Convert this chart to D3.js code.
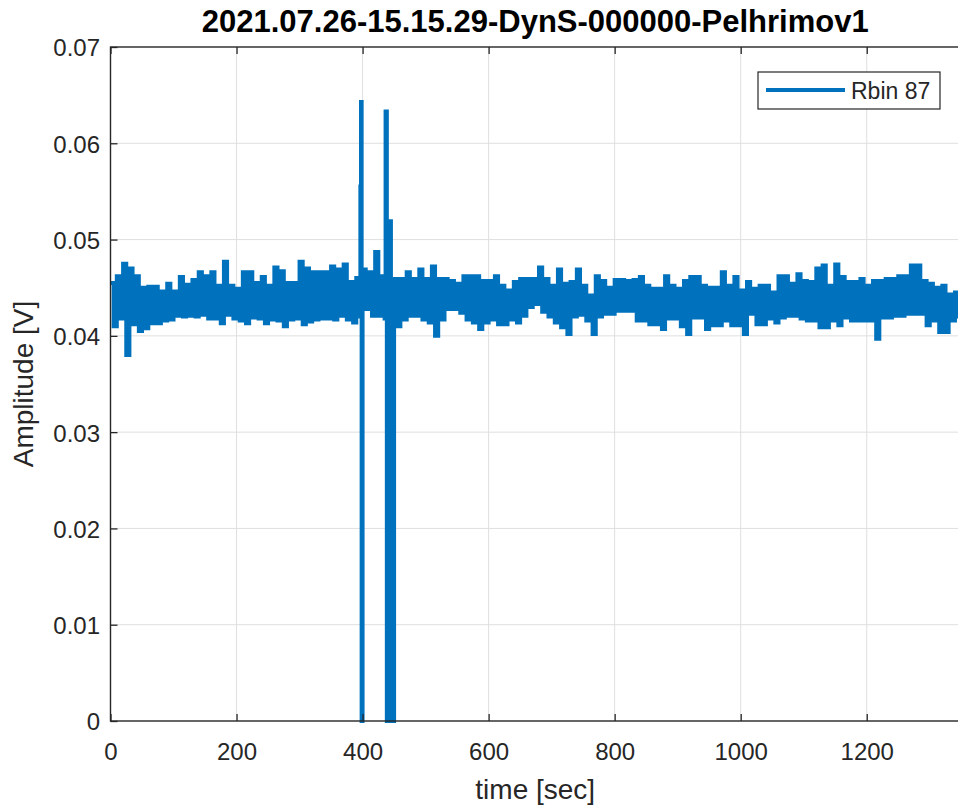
<!DOCTYPE html>
<html>
<head>
<meta charset="utf-8">
<script src="https://cdn.jsdelivr.net/npm/d3@7"></script>
<style>
  html, body { margin: 0; padding: 0; background: #fff; }
  svg { display: block; font-family: "Liberation Sans", Arial, Helvetica, sans-serif; }
</style>
</head>
<body>
<svg id="chart" width="958" height="809"></svg>
<script>
// envelope of the trace, one high and one low reading per 10 s bin (t = 0 .. 1340)
const binStep = 10;
const hiVals = [
  0.0455, 0.0462, 0.0475, 0.0470, 0.0462, 0.0450, 0.0451, 0.0451, 0.0446, 0.0454,
  0.0446, 0.0461, 0.0453, 0.0458, 0.0466, 0.0462, 0.0466, 0.0452, 0.0477, 0.0452,
  0.0449, 0.0466, 0.0466, 0.0455, 0.0461, 0.0452, 0.0471, 0.0467, 0.0455, 0.0455,
  0.0477, 0.0470, 0.0466, 0.0466, 0.0466, 0.0472, 0.0469, 0.0474, 0.0456, 0.0460,
  0.0469, 0.0466, 0.0487, 0.0462, 0.0519, 0.0459, 0.0459, 0.0466, 0.0459, 0.0469,
  0.0459, 0.0472, 0.0459, 0.0459, 0.0457, 0.0454, 0.0462, 0.0462, 0.0462, 0.0457,
  0.0457, 0.0462, 0.0452, 0.0447, 0.0456, 0.0459, 0.0459, 0.0459, 0.0471, 0.0459,
  0.0452, 0.0469, 0.0454, 0.0456, 0.0469, 0.0452, 0.0442, 0.0462, 0.0457, 0.0450,
  0.0458, 0.0458, 0.0457, 0.0458, 0.0461, 0.0452, 0.0449, 0.0449, 0.0462, 0.0452,
  0.0449, 0.0457, 0.0461, 0.0461, 0.0452, 0.0450, 0.0450, 0.0466, 0.0452, 0.0461,
  0.0447, 0.0456, 0.0449, 0.0452, 0.0452, 0.0445, 0.0462, 0.0462, 0.0454, 0.0464,
  0.0457, 0.0456, 0.0470, 0.0473, 0.0452, 0.0474, 0.0461, 0.0456, 0.0456, 0.0459,
  0.0452, 0.0457, 0.0457, 0.0459, 0.0459, 0.0462, 0.0462, 0.0473, 0.0473, 0.0457,
  0.0454, 0.0450, 0.0452, 0.0443, 0.0445
];
const loVals = [
  0.0410, 0.0418, 0.0380, 0.0412, 0.0405, 0.0408, 0.0413, 0.0413, 0.0416, 0.0417,
  0.0421, 0.0420, 0.0421, 0.0420, 0.0422, 0.0418, 0.0418, 0.0413, 0.0422, 0.0418,
  0.0416, 0.0413, 0.0419, 0.0418, 0.0413, 0.0417, 0.0416, 0.0410, 0.0417, 0.0418,
  0.0412, 0.0415, 0.0417, 0.0418, 0.0418, 0.0417, 0.0421, 0.0417, 0.0414, 0.0420,
  0.0428, 0.0421, 0.0421, 0.0418, 0.0000, 0.0410, 0.0417, 0.0421, 0.0421, 0.0417,
  0.0414, 0.0400, 0.0417, 0.0428, 0.0428, 0.0424, 0.0417, 0.0414, 0.0407, 0.0414,
  0.0417, 0.0412, 0.0412, 0.0417, 0.0414, 0.0421, 0.0430, 0.0433, 0.0425, 0.0420,
  0.0414, 0.0409, 0.0402, 0.0420, 0.0422, 0.0416, 0.0402, 0.0420, 0.0423, 0.0423,
  0.0426, 0.0426, 0.0426, 0.0416, 0.0416, 0.0412, 0.0412, 0.0407, 0.0418, 0.0418,
  0.0410, 0.0402, 0.0419, 0.0419, 0.0407, 0.0411, 0.0411, 0.0416, 0.0411, 0.0411,
  0.0402, 0.0423, 0.0412, 0.0412, 0.0418, 0.0414, 0.0419, 0.0421, 0.0421, 0.0418,
  0.0416, 0.0416, 0.0409, 0.0409, 0.0416, 0.0411, 0.0419, 0.0416, 0.0416, 0.0416,
  0.0416, 0.0397, 0.0419, 0.0419, 0.0421, 0.0421, 0.0423, 0.0423, 0.0423, 0.0411,
  0.0416, 0.0404, 0.0404, 0.0416, 0.0418
];
// the two spikes
const spikeTime = [396.5, 397.5, 398.5, 436.5, 438.5];
const spikeAmp  = [0.0555, 0.0643, 0.0000, 0.0633, 0.0000];

const xTicks = [0, 200, 400, 600, 800, 1000, 1200];
const yTicks = [0, 0.01, 0.02, 0.03, 0.04, 0.05, 0.06, 0.07];
const titleText = "2021.07.26-15.15.29-DynS-000000-Pelhrimov1";
const seriesName = "Rbin 87";

(function () {
  const svg = d3.select("#chart");
  const pL = 110.5, pR = 960, pT = 47, pB = 721;
  const ink = "#262626", blue = "#0072BD";

  const x = d3.scaleLinear().domain([0, 1348]).range([pL, pR]);
  const y = d3.scaleLinear().domain([0, 0.07]).range([pB, pT]);

  // grid
  svg.append("g").selectAll("line").data(xTicks.slice(1)).join("line")
    .attr("x1", d => x(d)).attr("x2", d => x(d))
    .attr("y1", pT).attr("y2", pB)
    .attr("stroke", "#dfdfdf").attr("stroke-width", 1);
  svg.append("g").selectAll("line").data(yTicks.slice(1, -1)).join("line")
    .attr("x1", pL).attr("x2", pR)
    .attr("y1", d => y(d)).attr("y2", d => y(d))
    .attr("stroke", "#dfdfdf").attr("stroke-width", 1);

  // trace
  const pts = [];
  hiVals.forEach((h, i) => {
    pts.push([i * binStep, h]);
    pts.push([i * binStep + binStep / 2, loVals[i]]);
  });
  spikeTime.forEach((t, j) => pts.push([t, spikeAmp[j]]));
  pts.sort((a, b) => a[0] - b[0]);

  svg.append("clipPath").attr("id", "clip")
    .append("rect").attr("x", pL).attr("y", pT - 2)
    .attr("width", pR - pL).attr("height", pB - pT + 4);

  svg.append("path")
    .datum(pts)
    .attr("clip-path", "url(#clip)")
    .attr("fill", "none")
    .attr("stroke", blue)
    .attr("stroke-width", 4)
    .attr("d", d3.line().x(d => x(d[0])).y(d => y(d[1])).curve(d3.curveStepAfter));

  // axes
  const xAxis = svg.append("g")
    .attr("transform", `translate(0,${pB})`)
    .call(d3.axisBottom(x).tickValues(xTicks).tickSizeInner(-7).tickSizeOuter(0)
      .tickPadding(22).tickFormat(d3.format("d")));
  svg.append("g")
    .attr("transform", `translate(0,${pT})`)
    .call(d3.axisTop(x).tickValues(xTicks).tickSizeInner(-7).tickSizeOuter(0).tickFormat(""));
  const yAxis = svg.append("g")
    .attr("transform", `translate(${pL},0)`)
    .call(d3.axisLeft(y).tickValues(yTicks).tickSizeInner(-7).tickSizeOuter(0)
      .tickPadding(10.5).tickFormat(d => d === 0 ? "0" : d3.format(".2f")(d)));

  svg.selectAll(".domain").remove();
  svg.selectAll(".tick line").attr("stroke", ink).attr("stroke-width", 1.3);
  xAxis.selectAll("text").attr("font-size", 24).attr("fill", ink).attr("font-family", null);
  yAxis.selectAll("text").attr("font-size", 24).attr("fill", ink).attr("font-family", null)
    .attr("dy", "0.37em");

  // box
  svg.append("rect")
    .attr("x", pL).attr("y", pT)
    .attr("width", pR - pL).attr("height", pB - pT)
    .attr("fill", "none").attr("stroke", ink).attr("stroke-width", 1.4);

  // labels
  svg.append("text")
    .attr("x", (pL + pR) / 2).attr("y", 32)
    .attr("text-anchor", "middle")
    .attr("font-size", 31).attr("font-weight", "bold").attr("fill", "#000")
    .text(titleText);

  svg.append("text")
    .attr("x", (pL + pR) / 2).attr("y", 799)
    .attr("text-anchor", "middle")
    .attr("font-size", 28).attr("fill", ink)
    .text("time [sec]");

  svg.append("text")
    .attr("transform", `translate(33,${(pT + pB) / 2}) rotate(-90)`)
    .attr("text-anchor", "middle")
    .attr("font-size", 28).attr("fill", ink)
    .text("Amplitude [V]");

  // legend
  const lg = svg.append("g").attr("transform", "translate(758,72)");
  lg.append("rect").attr("width", 182).attr("height", 37)
    .attr("fill", "#fff").attr("stroke", ink).attr("stroke-width", 1.2);
  lg.append("line").attr("x1", 8).attr("x2", 87).attr("y1", 18).attr("y2", 18)
    .attr("stroke", blue).attr("stroke-width", 4);
  lg.append("text").attr("x", 93).attr("y", 27)
    .attr("font-size", 23).attr("fill", ink)
    .text(seriesName);
})();
</script>
</body>
</html>
